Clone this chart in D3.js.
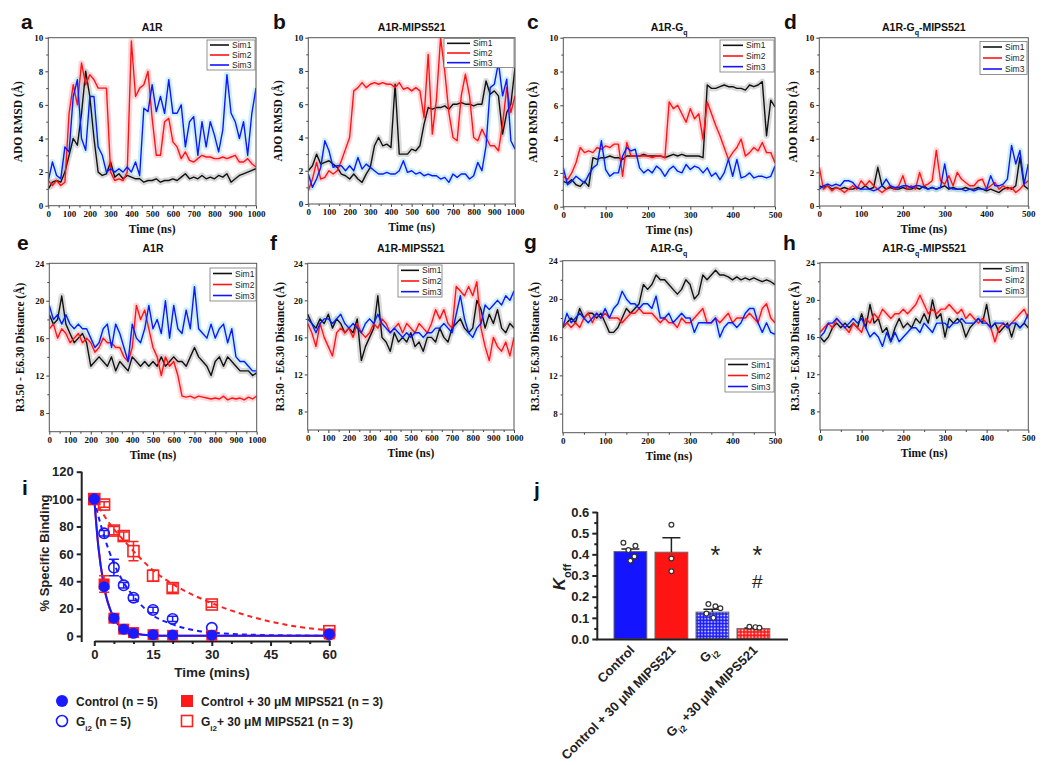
<!DOCTYPE html>
<html><head><meta charset="utf-8">
<script src="https://cdn.jsdelivr.net/npm/d3@7"></script>
<style>body{margin:0;background:#fff}</style>
</head><body>
<script>
// ---------------- DATA ----------------
const simNames = ["Sim1", "Sim2", "Sim3"];

// a: A1R ADO RMSD (0-1000 ns, every 20 ns)
const aSim1 = [1.0,1.4,1.5,1.4,2.0, 3.0,4.0,3.6,5.5,8.0, 6.5,4.0,2.0,1.8,1.9, 2.6,1.7,1.9,1.6,1.8, 1.7,1.6,1.6,1.4,1.5, 1.5,1.6,1.4,1.5,1.5, 1.6,1.5,1.7,1.9,1.6, 1.7,1.6,1.8,1.6,1.7, 1.6,1.8,1.7,1.9,1.4, 1.6,1.8,1.9,2.0,2.1, 2.2];
const aSim2 = [1.5,1.2,1.5,1.2,1.4, 5.5,7.2,6.0,8.5,7.2, 7.8,7.5,7.0,7.0,7.0, 2.0,1.5,1.6,1.5,2.0, 9.8,6.5,7.0,7.2,8.0, 5.2,3.0,3.0,5.0,5.2, 3.8,3.5,2.8,3.2,2.7, 2.6,2.8,3.0,2.9,2.9, 2.8,2.8,2.9,2.8,2.9, 3.0,2.6,2.6,2.8,2.5, 2.3];
const aSim3 = [1.5,2.6,1.8,1.6,3.5, 3.2,6.5,7.5,4.0,3.3, 6.5,6.5,3.5,3.0,2.0, 2.2,2.0,2.2,2.0,2.3, 2.0,2.6,1.8,5.8,5.6, 7.2,5.6,6.5,5.5,7.5, 5.5,5.5,6.0,3.5,5.0, 5.3,3.0,5.0,3.5,5.0, 4.2,3.2,4.5,7.8,5.5, 5.0,4.0,5.0,3.0,5.5, 7.0];
// b: A1R-MIPS521 ADO RMSD
const bSim1 = [2.0,2.3,3.0,2.4,2.5, 2.6,2.4,2.2,1.8,1.7, 1.5,1.8,1.5,1.3,1.8, 2.2,3.5,4.0,3.5,3.6, 3.4,7.2,3.0,3.0,3.0, 3.3,3.2,3.5,4.8,5.8, 5.7,5.8,5.8,5.9,5.7, 6.0,6.0,6.1,6.0,6.0, 5.9,6.0,6.0,7.4,6.6, 6.8,6.5,4.2,5.5,6.0, 8.2];
const bSim2 = [0.8,1.5,2.5,1.5,1.6, 2.0,1.8,2.0,2.6,3.3, 4.0,6.8,7.0,7.3,7.0, 7.2,7.3,7.2,7.3,7.2, 7.2,7.0,7.3,6.9,7.0, 6.8,7.0,6.8,5.2,9.0, 4.2,6.3,10.0,8.0,5.5, 4.0,3.8,6.5,7.8,6.5, 4.0,3.8,4.5,4.0,3.5, 3.5,3.2,4.8,7.0,5.5, 6.5];
const bSim3 = [1.8,1.0,1.5,2.2,3.8, 3.2,2.2,2.3,2.3,2.0, 2.3,2.0,2.8,2.1,2.4, 2.2,2.0,1.8,1.8,1.9, 1.8,1.8,2.0,2.6,1.9, 2.0,1.8,1.9,1.7,1.8, 1.7,1.7,1.5,1.6,1.3, 1.8,1.6,1.8,1.8,1.5, 1.7,2.5,2.0,3.5,7.0, 7.2,8.5,6.5,7.5,3.8, 3.3];
// c: A1R-Gq ADO RMSD (0-500 ns, every 10 ns)
const cSim1 = [1.5,1.4,1.6,1.3,1.2, 1.5,1.2,2.9,2.8,2.9, 2.9,3.0,2.9,2.9,2.8, 3.0,3.0,3.0,3.0,3.1, 3.0,3.0,3.0,3.0,2.9, 3.0,3.1,3.0,3.1,3.0, 3.0,3.0,3.0,2.9,7.2, 7.0,7.0,7.1,7.2,7.1, 7.1,7.0,7.0,6.9,7.2, 7.1,7.2,7.4,4.2,6.3, 5.9];
const cSim2 = [1.8,1.6,2.0,2.6,3.5, 3.2,3.3,3.2,3.5,3.4, 3.6,3.5,3.7,3.7,1.8, 3.8,3.0,3.0,3.0,3.0, 3.0,2.9,3.0,3.0,2.9, 6.2,5.8,6.0,5.5,5.0, 5.8,5.2,5.5,4.0,6.2, 5.5,4.8,4.2,3.5,2.8, 3.2,3.5,4.0,3.0,3.2, 3.5,3.3,3.8,3.2,3.2, 2.6];
const cSim3 = [2.3,1.3,1.5,1.8,1.6, 1.4,1.9,2.3,2.5,3.9, 2.2,1.8,2.0,2.0,3.0, 3.5,3.3,3.4,2.3,2.0, 2.2,2.0,2.4,2.2,1.8, 2.2,2.4,2.1,2.0,2.5, 2.2,2.4,2.3,2.0,2.3, 1.8,2.0,1.6,2.0,2.8, 1.8,2.8,1.7,1.8,2.0, 1.7,1.8,1.8,1.7,1.8, 2.4];
// d: A1R-Gq-MIPS521 ADO RMSD
const dSim1 = [1.2,1.1,1.2,1.0,1.1, 1.0,1.1,1.0,1.0,1.1, 1.0,1.2,1.0,1.1,2.3, 1.2,1.0,1.1,1.0,1.0, 1.1,1.0,1.0,1.1,1.0, 1.2,1.0,1.1,1.0,1.1, 1.2,1.0,1.1,1.0,1.0, 1.1,1.0,1.0,1.1,1.0, 0.9,1.0,0.9,0.8,1.0, 1.1,1.0,1.2,2.9,1.2, 1.0];
const dSim2 = [2.3,1.0,1.2,0.9,1.1, 1.0,0.8,1.0,1.2,1.0, 1.5,1.2,1.5,1.2,1.0, 0.8,1.0,1.2,1.0,1.2, 1.8,1.0,1.2,1.0,2.0, 1.2,1.3,1.5,3.3,1.5, 1.3,1.8,1.2,2.0,1.6, 1.4,1.2,1.2,1.5,1.6, 1.0,1.2,1.4,1.0,1.2, 1.0,1.1,0.8,1.0,1.3, 1.5];
const dSim3 = [1.0,1.2,1.3,1.2,1.3, 1.2,1.5,1.5,1.4,1.1, 1.0,1.0,1.0,0.9,1.0, 1.2,1.6,1.2,1.1,1.1, 1.2,1.2,1.1,1.2,1.2, 1.1,1.0,1.1,1.0,1.1, 2.5,1.1,1.0,1.0,1.0, 0.9,1.0,0.9,1.0,1.0, 1.0,1.8,1.2,1.2,1.3, 1.6,3.6,2.5,3.3,1.3, 2.5];
// e: A1R R3.50-E6.30 distance (0-1000 ns)
const eSim1 = [18.5,17.5,18.0,20.5,17.5, 16.5,15.5,16.0,16.5,15.5, 13.0,13.5,14.0,13.5,13.0, 14.0,12.5,13.5,13.0,12.5, 14.0,13.5,13.0,13.5,13.0, 13.5,13.0,14.0,13.0,13.5, 14.0,13.5,13.5,13.0,14.0, 15.0,14.0,13.5,13.0,12.0, 13.5,14.0,13.0,14.0,13.5, 13.0,12.5,12.5,12.5,12.0, 12.3];
const eSim2 = [17.0,17.5,16.0,17.0,16.5, 15.5,16.0,16.5,15.5,16.0, 15.5,14.5,15.0,16.0,15.5, 15.5,15.0,15.0,14.0,13.5, 15.0,19.5,18.0,19.0,17.0, 15.0,14.0,12.0,14.0,13.0, 13.5,12.0,9.8,9.7,9.8, 9.6,9.8,9.7,9.6,9.5, 9.6,9.5,9.8,9.4,9.6, 9.5,9.6,9.4,9.7,9.5, 9.8];
const eSim3 = [19.5,18.0,18.5,17.5,18.5, 17.5,17.0,17.5,17.0,17.0, 16.0,15.0,15.5,17.0,17.5, 15.0,17.5,16.5,15.0,13.5, 17.5,16.0,15.5,17.0,19.5, 17.0,18.0,16.5,20.0,16.0, 19.5,17.0,16.5,19.0,17.0, 21.5,17.0,16.5,16.0,17.5, 16.0,17.0,17.5,15.5,17.0, 14.0,13.5,13.5,13.0,12.5, 12.5];
// f: A1R-MIPS521 distance
const fSim1 = [18.5,17.5,17.0,18.0,17.5, 18.5,17.0,18.0,17.5,16.5, 17.0,16.5,18.0,13.5,15.0, 16.0,17.0,20.5,16.0,15.5, 14.5,16.5,15.5,16.0,15.5, 16.5,15.0,15.5,14.5,16.0, 16.0,15.5,17.0,16.0,15.5, 17.0,17.5,18.0,17.0,16.5, 17.0,20.0,19.0,17.0,18.5, 17.5,19.0,17.0,16.5,17.5, 17.0];
const fSim2 = [17.5,16.5,15.0,17.5,16.0, 15.0,14.0,16.5,17.0,16.5, 17.0,16.0,17.5,16.5,16.0, 16.5,17.5,17.0,18.0,17.5, 16.5,17.0,17.5,16.5,17.5, 17.0,16.5,17.5,17.0,16.5, 17.5,19.0,18.0,19.0,17.5, 17.0,21.5,21.0,20.5,21.5, 20.5,22.0,17.0,15.0,13.5, 16.0,15.0,14.5,15.5,14.0, 16.0];
const fSim3 = [18.0,17.5,16.5,17.5,18.0, 18.0,17.5,18.0,18.5,17.5, 17.0,17.5,17.0,16.5,17.5, 18.0,17.5,18.5,17.5,17.0, 16.5,17.0,16.5,16.0,16.5, 16.0,16.5,16.5,16.0,16.5, 16.5,17.0,17.0,17.5,17.0, 16.5,18.5,20.5,18.0,16.5, 16.0,17.0,17.5,19.5,19.0, 19.5,20.0,19.5,20.5,20.0, 21.0];
// g: A1R-Gq distance (0-500 ns)
const gSim1 = [17.0,17.5,18.0,17.5,19.0, 18.0,18.5,18.5,18.0,18.5, 17.5,16.5,16.5,17.0,18.0, 19.0,18.5,19.0,19.5,21.5, 21.0,21.5,22.5,22.0,22.0, 21.5,21.0,20.5,21.0,22.0, 21.5,20.0,20.5,22.5,22.0, 22.5,23.0,22.5,22.5,22.3, 22.0,22.3,22.0,22.2,22.0, 22.2,22.0,21.8,22.0,21.8, 21.5];
const gSim2 = [17.0,17.5,17.0,17.5,17.0, 18.0,18.5,17.5,18.5,18.0, 18.5,18.0,18.0,18.0,17.5, 18.0,18.5,18.5,19.0,18.5, 18.5,18.5,18.0,17.5,18.0, 17.5,17.5,17.0,18.0,17.5, 17.5,18.0,18.5,19.0,17.5, 17.5,18.0,17.5,18.0,18.5, 17.5,18.0,18.0,18.0,18.5, 18.0,17.5,19.0,19.5,18.0, 17.5];
const gSim3 = [17.0,18.5,17.5,18.0,18.5, 18.0,17.5,18.0,18.5,18.0, 19.0,18.0,19.0,19.5,20.8, 20.0,19.5,19.5,19.0,19.5, 19.5,19.0,20.3,18.0,18.0, 18.5,17.5,18.0,18.5,18.0, 18.0,16.5,17.5,17.5,17.5, 17.5,18.0,16.0,17.0,17.5, 17.5,17.0,17.5,18.5,19.0, 19.0,17.5,16.5,17.5,16.5, 16.3];
// h: A1R-Gq-MIPS521 distance
const hSim1 = [16.0,15.5,16.0,17.0,17.5, 17.0,17.5,17.0,17.5,17.0, 18.5,17.0,19.5,17.5,18.0, 16.5,17.0,15.5,17.0,18.0, 17.0,17.5,17.0,18.0,17.5, 18.5,17.5,20.0,18.0,18.5, 16.0,18.0,17.5,18.0,17.5, 16.0,17.0,17.5,18.0,17.5, 19.5,17.0,17.5,16.5,17.0, 17.5,16.0,17.5,17.0,17.5, 17.0];
const hSim2 = [16.5,17.0,17.5,17.0,18.0, 17.5,17.0,16.5,17.5,17.0, 16.5,18.0,17.5,18.5,18.0, 19.0,18.5,18.0,18.5,18.5, 19.0,18.5,19.0,19.5,20.5, 19.5,18.5,19.0,18.5,19.0, 19.0,19.5,19.0,18.5,19.0, 18.0,18.5,18.0,17.5,18.0, 17.5,17.0,15.5,17.0,17.5, 17.0,17.5,18.0,18.5,19.0, 18.0];
const hSim3 = [16.0,16.5,17.5,17.5,18.0, 17.5,17.0,17.5,18.0,17.5, 18.0,17.0,16.0,16.5,16.0, 15.0,16.5,15.5,16.5,15.5, 16.0,16.5,17.0,17.0,16.5, 17.5,17.0,16.5,17.5,17.5, 17.5,17.0,17.5,17.5,18.0, 17.5,17.5,17.5,18.0,17.5, 17.5,17.0,17.5,17.5,17.5, 17.0,17.5,17.5,17.0,17.5, 18.5];

const mdTitles = [
  [{t:"A1R"}], [{t:"A1R-MIPS521"}], [{t:"A1R-G"},{t:"q",sub:1}], [{t:"A1R-G"},{t:"q",sub:1},{t:"-MIPS521"}],
  [{t:"A1R"}], [{t:"A1R-MIPS521"}], [{t:"A1R-G"},{t:"q",sub:1}], [{t:"A1R-G"},{t:"q",sub:1},{t:"-MIPS521"}]
];
const rmsdLabel = "ADO RMSD (Å)";
const distLabel = "R3.50 - E6.30 Distance (Å)";
const timeLabelNs = "Time (ns)";
const rmsdTicks = [0, 2, 4, 6, 8, 10];
const distTicks = [8, 12, 16, 20, 24];
const timeTicksLong = [0,100,200,300,400,500,600,700,800,900,1000];
const timeTicksShort = [0,100,200,300,400,500];

// i: dissociation kinetics
const bindTimes = [0, 2.5, 5, 7.5, 10, 15, 20, 30, 60];
const bindControl = [100, 36, 13, 5, 2, 1, 0.7, 0.6, 1.5];
const bindControlMips = [100, 38, 13, 5, 2.5, 1, 0.5, 0.5, 1.5];
const bindGi2 = [100, 75, 50, 37, 28, 19, 12.5, 6, 1];
const bindGi2Mips = [100, 96, 77, 73, 62, 44, 35, 23, 3.5];
const errControlMips = [0, 6, 2, 1, 1, 0.5, 0.5, 0.5, 0.5];
const errGi2 = [0, 2, 6, 2, 2, 2, 2, 1, 0.5];
const errGi2Mips = [0, 2, 3, 3, 7, 4, 3, 2, 1];
const fitTimes = [0, 1, 2.5, 5, 7.5, 10, 15, 20, 30, 45, 60];
const fitControl = [100, 66, 36, 13, 5, 2, 0.4, 0.2, 0.1, 0.1, 0.1];
const fitGi2 = [100, 88, 73, 53, 39, 29, 15, 8.5, 2.5, 0.6, 0.2];
const fitGi2Mips = [100, 95, 88, 78, 70, 62, 48, 38, 24, 10.5, 4];
const bindXTicks = [0, 15, 30, 45, 60];
const bindYTicks = [0, 20, 40, 60, 80, 100, 120];
const bindLegend = [
  [{t:"Control (n = 5)"}],
  [{t:"G"},{t:"i2",sub:1},{t:" (n = 5)"}],
  [{t:"Control + 30 μM MIPS521 (n = 3)"}],
  [{t:"G"},{t:"i2",sub:1},{t:"+ 30 μM MIPS521 (n = 3)"}]
];

// j: Koff bars
const koffCats = [
  [{t:"Control"}],
  [{t:"Control + 30 μM MIPS521"}],
  [{t:"G"},{t:"i2",sub:1}],
  [{t:"G"},{t:"i2",sub:1},{t:" +30 μM MIPS521"}]
];
const koffMean = [0.413, 0.41, 0.127, 0.049];
const koffSem = [0.012, 0.068, 0.013, 0.003];
const koffPoints = [[0.455, 0.44, 0.42, 0.39, 0.37], [0.54, 0.38, 0.32], [0.165, 0.155, 0.145, 0.12, 0.1], [0.058, 0.056, 0.053]];
const koffTicks = [0, 0.1, 0.2, 0.3, 0.4, 0.5, 0.6];

// ---------------- DRAW ----------------
const serif = "'Liberation Serif','Times New Roman',serif";
const sans = "'Liberation Sans',Arial,sans-serif";
const svg = d3.select("body").append("svg").attr("width", 1050).attr("height", 765);
const defs = svg.append("defs");

function rich(sel, parts, subSize) {
  parts.forEach(p => {
    const ts = sel.append("tspan").text(p.t);
    if (p.sub) ts.attr("baseline-shift", "sub").attr("font-size", subSize);
  });
  return sel;
}

const simColors = ["#111111", "#ff1414", "#1414ff"];
const simBand = ["#a0a0a0", "#ff9aa6", "#80dcec"];

const mdPanels = [
  {L:"a", lx:21, ly:29, l:48.3, r:256, t:37.7, b:205.7, xmax:1000, yd:[0,10], yt:rmsdTicks, ym:[1,3,5,7,9], xt:timeTicksLong, yl:rmsdLabel, ylx:22, data:[aSim1,aSim2,aSim3], leg:{x:207,y:40,w:48,h:30,len:19}},
  {L:"b", lx:273, ly:29, l:308.3, r:515, t:37.7, b:204, xmax:1000, yd:[0,10], yt:rmsdTicks, ym:[1,3,5,7,9], xt:timeTicksLong, yl:rmsdLabel, ylx:282, data:[bSim1,bSim2,bSim3], leg:{x:444,y:38.5,w:70,h:29,len:23}},
  {L:"c", lx:527, ly:29, l:563.3, r:775, t:37.7, b:206.7, xmax:500, yd:[0,10], yt:rmsdTicks, ym:[1,3,5,7,9], xt:timeTicksShort, yl:rmsdLabel, ylx:537, data:[cSim1,cSim2,cSim3], leg:{x:720,y:40,w:54,h:32,len:20}},
  {L:"d", lx:784, ly:29, l:819.3, r:1028.3, t:37.7, b:206, xmax:500, yd:[0,10], yt:rmsdTicks, ym:[1,3,5,7,9], xt:timeTicksShort, yl:rmsdLabel, ylx:797, data:[dSim1,dSim2,dSim3], leg:{x:980,y:41.5,w:47,h:33,len:19}},
  {L:"e", lx:17, ly:250, l:49.3, r:256.7, t:263.3, b:431.7, xmax:1000, yd:[6,24], yt:distTicks, ym:[10,14,18,22], xt:timeTicksLong, yl:distLabel, ylx:24, data:[eSim1,eSim2,eSim3], leg:{x:210,y:268,w:46,h:33,len:19}},
  {L:"f", lx:270, ly:250, l:307.7, r:514, t:263.3, b:430, xmax:1000, yd:[6,24], yt:distTicks, ym:[10,14,18,22], xt:timeTicksLong, yl:distLabel, ylx:284, data:[fSim1,fSim2,fSim3], leg:{x:398,y:265,w:44,h:32,len:18}},
  {L:"g", lx:524, ly:249, l:562.7, r:775, t:260.7, b:432.7, xmax:500, yd:[6,24], yt:distTicks, ym:[10,14,18,22], xt:timeTicksShort, yl:distLabel, ylx:539, data:[gSim1,gSim2,gSim3], leg:{x:725,y:359,w:49,h:33,len:20}},
  {L:"h", lx:783, ly:250, l:820, r:1028.3, t:262.7, b:430, xmax:500, yd:[6,24], yt:distTicks, ym:[10,14,18,22], xt:timeTicksShort, yl:distLabel, ylx:799, data:[hSim1,hSim2,hSim3], leg:{x:980,y:263,w:47,h:34,len:19}}
];

mdPanels.forEach((p, idx) => {
  const x = d3.scaleLinear().domain([0, p.xmax]).range([p.l, p.r]);
  const y = d3.scaleLinear().domain(p.yd).range([p.b, p.t]);
  const g = svg.append("g");
  const cid = "clip" + idx;
  defs.append("clipPath").attr("id", cid).append("rect")
    .attr("x", p.l).attr("y", p.t).attr("width", p.r - p.l).attr("height", p.b - p.t);
  const pg = g.append("g").attr("clip-path", `url(#${cid})`);
  const line = d3.line()
    .x((d, i, arr) => x(i * p.xmax / (arr.length - 1)))
    .y(d => y(d));
  p.data.forEach((s, k) => {
    pg.append("path").attr("d", line(s)).attr("fill", "none")
      .attr("stroke", simBand[k]).attr("stroke-width", 6).attr("stroke-opacity", 0.4)
      .attr("stroke-linejoin", "round");
  });
  p.data.forEach((s, k) => {
    pg.append("path").attr("d", line(s)).attr("fill", "none")
      .attr("stroke", simColors[k]).attr("stroke-width", 1.4).attr("stroke-linejoin", "round");
  });
  // axes
  const xa = g.append("g").attr("transform", `translate(0,${p.b})`)
    .call(d3.axisBottom(x).tickValues(p.xt).tickSize(3).tickPadding(2).tickFormat(d3.format("d")));
  const xm = g.append("g").attr("transform", `translate(0,${p.b})`)
    .call(d3.axisBottom(x).tickValues(p.xt.slice(0, -1).map((v, i) => (v + p.xt[i + 1]) / 2)).tickSize(2).tickFormat(""));
  const ya = g.append("g").attr("transform", `translate(${p.l},0)`)
    .call(d3.axisLeft(y).tickValues(p.yt).tickSize(3).tickPadding(2).tickFormat(d3.format("d")));
  const ymn = g.append("g").attr("transform", `translate(${p.l},0)`)
    .call(d3.axisLeft(y).tickValues(p.ym).tickSize(2).tickFormat(""));
  [xa, xm, ya, ymn].forEach(a => {
    a.select(".domain").remove();
    a.selectAll("line").attr("stroke", "#444");
    a.selectAll("text").attr("font-family", serif).attr("font-weight", "bold").attr("font-size", 9).attr("fill", "#111");
  });
  g.append("rect").attr("x", p.l).attr("y", p.t).attr("width", p.r - p.l).attr("height", p.b - p.t)
    .attr("fill", "none").attr("stroke", "#555").attr("stroke-width", 1);
  // labels
  g.append("text").attr("x", (p.l + p.r) / 2).attr("y", p.b + 27).attr("text-anchor", "middle")
    .attr("font-family", serif).attr("font-weight", "bold").attr("font-size", 11.5).attr("fill", "#111").text(timeLabelNs);
  g.append("text").attr("transform", `translate(${p.ylx},${(p.t + p.b) / 2}) rotate(-90)`).attr("text-anchor", "middle")
    .attr("font-family", serif).attr("font-weight", "bold").attr("font-size", 11.5).attr("fill", "#111").text(p.yl);
  rich(g.append("text").attr("x", (p.l + p.r) / 2).attr("y", idx < 4 ? 30.5 : 252).attr("text-anchor", "middle")
    .attr("font-family", sans).attr("font-weight", "bold").attr("font-size", 10.5).attr("fill", "#111"), mdTitles[idx], 7);
  g.append("text").attr("x", p.lx).attr("y", p.ly).attr("font-family", sans).attr("font-weight", "bold")
    .attr("font-size", 21).attr("fill", "#111").text(p.L);
  // legend
  const lg = p.leg;
  g.append("rect").attr("x", lg.x).attr("y", lg.y).attr("width", lg.w).attr("height", lg.h)
    .attr("fill", "#fff").attr("stroke", "#777").attr("stroke-width", 0.8);
  simNames.forEach((n, k) => {
    const yy = lg.y + lg.h * (k + 0.5) / 3;
    g.append("line").attr("x1", lg.x + 3).attr("x2", lg.x + 3 + lg.len).attr("y1", yy).attr("y2", yy)
      .attr("stroke", simColors[k]).attr("stroke-width", 1.6);
    g.append("text").attr("x", lg.x + lg.len + 6).attr("y", yy + 3).attr("font-family", sans)
      .attr("font-size", 8.5).attr("fill", "#222").text(n);
  });
});

// ---------- panel i ----------
{
  const g = svg.append("g");
  const x = d3.scaleLinear().domain([0, 60]).range([94.3, 329.3]);
  const y = d3.scaleLinear().domain([0, 120]).range([636, 471.7]);
  const ya = g.append("g").attr("transform", "translate(81.7,0)")
    .call(d3.axisLeft(y).tickValues(bindYTicks).tickSize(5).tickSizeOuter(0).tickPadding(3));
  const xa = g.append("g").attr("transform", "translate(0,641)")
    .call(d3.axisBottom(x).tickValues(bindXTicks).tickSize(5).tickSizeOuter(0).tickPadding(4));
  const xm = g.append("g").attr("transform", "translate(0,641)")
    .call(d3.axisBottom(x).tickValues([5,10,20,25,35,40,50,55]).tickSize(3).tickFormat(""));
  xm.select(".domain").remove();
  [ya, xa, xm].forEach(a => {
    a.selectAll("path,line").attr("stroke", "#222").attr("stroke-width", 2);
    a.selectAll("text").attr("font-family", sans).attr("font-weight", "bold").attr("font-size", 13).attr("fill", "#222");
  });
  ya.select(".domain").attr("d", "M0,471.7V642");
  g.append("text").attr("x", 212).attr("y", 677).attr("text-anchor", "middle").attr("font-family", sans)
    .attr("font-weight", "bold").attr("font-size", 13.5).attr("fill", "#222").text("Time (mins)");
  g.append("text").attr("transform", "translate(49,553) rotate(-90)").attr("text-anchor", "middle").attr("font-family", sans)
    .attr("font-weight", "bold").attr("font-size", 13).attr("fill", "#222").text("% Specific Binding");
  g.append("text").attr("x", 22).attr("y", 495).attr("font-family", sans).attr("font-weight", "bold")
    .attr("font-size", 21).attr("fill", "#111").text("i");

  const fl = arr => d3.line().curve(d3.curveMonotoneX).x((d, i) => x(fitTimes[i])).y(d => y(d))(arr);
  g.append("path").attr("d", fl(fitGi2Mips)).attr("fill", "none").attr("stroke", "#ff2020").attr("stroke-width", 2).attr("stroke-dasharray", "5,4");
  g.append("path").attr("d", fl(fitGi2)).attr("fill", "none").attr("stroke", "#1a1aff").attr("stroke-width", 2).attr("stroke-dasharray", "5,4");
  g.append("path").attr("d", fl(fitControl)).attr("fill", "none").attr("stroke", "#ff2020").attr("stroke-width", 2);
  g.append("path").attr("d", fl(fitControl)).attr("fill", "none").attr("stroke", "#1a1aff").attr("stroke-width", 2);

  const errs = (vals, err, col) => {
    vals.forEach((v, i) => {
      if (err[i] < 1.5) return;
      const cx = x(bindTimes[i]);
      g.append("path").attr("d", `M${cx},${y(v - err[i])}V${y(v + err[i])}M${cx - 5},${y(v - err[i])}H${cx + 5}M${cx - 5},${y(v + err[i])}H${cx + 5}`)
        .attr("stroke", col).attr("stroke-width", 1.5).attr("fill", "none");
    });
  };
  errs(bindGi2Mips, errGi2Mips, "#ff2020");
  errs(bindGi2, errGi2, "#1a1aff");
  errs(bindControlMips, errControlMips, "#ff2020");
  bindGi2Mips.forEach((v, i) => g.append("rect").attr("x", x(bindTimes[i]) - 5.5).attr("y", y(v) - 5.5).attr("width", 11).attr("height", 11)
    .attr("fill", "none").attr("stroke", "#ff2020").attr("stroke-width", 1.6));
  bindGi2.forEach((v, i) => g.append("circle").attr("cx", x(bindTimes[i])).attr("cy", y(v)).attr("r", 5.2)
    .attr("fill", "none").attr("stroke", "#1a1aff").attr("stroke-width", 1.6));
  bindControlMips.forEach((v, i) => g.append("rect").attr("x", x(bindTimes[i]) - 5.5).attr("y", y(v) - 5.5).attr("width", 11).attr("height", 11)
    .attr("fill", "#ff1a1a"));
  bindControl.forEach((v, i) => g.append("circle").attr("cx", x(bindTimes[i])).attr("cy", y(v)).attr("r", 5.5)
    .attr("fill", "#1a1aff"));

  // legend
  const lgPos = [[62, 701], [62, 721], [187, 701], [187, 721]];
  lgPos.forEach((pp, k) => {
    const [cx, cy] = pp;
    if (k === 0) g.append("circle").attr("cx", cx).attr("cy", cy).attr("r", 6).attr("fill", "#1a1aff");
    if (k === 1) g.append("circle").attr("cx", cx).attr("cy", cy).attr("r", 5.5).attr("fill", "none").attr("stroke", "#1a1aff").attr("stroke-width", 1.6);
    if (k === 2) g.append("rect").attr("x", cx - 6).attr("y", cy - 6).attr("width", 12).attr("height", 12).attr("fill", "#ff1a1a");
    if (k === 3) g.append("rect").attr("x", cx - 5.5).attr("y", cy - 5.5).attr("width", 11).attr("height", 11).attr("fill", "none").attr("stroke", "#ff2020").attr("stroke-width", 1.6);
    rich(g.append("text").attr("x", cx + 14).attr("y", cy + 4.5).attr("font-family", sans).attr("font-weight", "bold")
      .attr("font-size", 12).attr("fill", "#222"), bindLegend[k], 8);
  });
}

// ---------- panel j ----------
{
  const g = svg.append("g");
  const pb = defs.append("pattern").attr("id", "patBlue").attr("width", 3.2).attr("height", 3.2).attr("patternUnits", "userSpaceOnUse");
  pb.append("rect").attr("width", 3.2).attr("height", 3.2).attr("fill", "#1a1aff");
  pb.append("rect").attr("x", 0.4).attr("y", 0.4).attr("width", 1.5).attr("height", 1.5).attr("fill", "#fff");
  const pr = defs.append("pattern").attr("id", "patRed").attr("width", 3.4).attr("height", 3.4).attr("patternUnits", "userSpaceOnUse");
  pr.append("rect").attr("width", 3.4).attr("height", 3.4).attr("fill", "#ff1a1a");
  pr.append("circle").attr("cx", 1.2).attr("cy", 1.2).attr("r", 0.85).attr("fill", "#fff");
  const fills = ["#1414ff", "#ff1414", "url(#patBlue)", "url(#patRed)"];

  const x = d3.scaleBand().domain(d3.range(koffMean.length)).range([609.9, 773.9]).paddingInner(0.2).paddingOuter(0.1);
  const y = d3.scaleLinear().domain([0, 0.6]).range([639, 512]);
  koffMean.forEach((v, i) => {
    g.append("rect").attr("x", x(i)).attr("y", y(v)).attr("width", x.bandwidth()).attr("height", y(0) - y(v))
      .attr("fill", fills[i]).attr("stroke", "#666").attr("stroke-width", 1);
    const cx = x(i) + x.bandwidth() / 2;
    const top = y(v + koffSem[i]);
    g.append("path").attr("d", `M${cx},${y(v)}V${top}M${cx - 9},${top}H${cx + 9}`).attr("stroke", "#222").attr("stroke-width", 1.5).attr("fill", "none");
  });
  const jit = [[-7, 5, -2, 4, 0], [0, 0, 0], [-4, 3, 8, -6, 1], [-4, 2, 6]];
  koffPoints.forEach((arr, i) => {
    const cx = x(i) + x.bandwidth() / 2;
    arr.forEach((v, k) => g.append("circle").attr("cx", cx + jit[i][k]).attr("cy", y(v)).attr("r", 2.4)
      .attr("fill", "#fff").attr("stroke", "#333").attr("stroke-width", 1.2));
  });
  const ya = g.append("g").attr("transform", "translate(597.3,0)")
    .call(d3.axisLeft(y).tickValues(koffTicks).tickSize(5).tickSizeOuter(0).tickPadding(3).tickFormat(d3.format(".1f")));
  const ym = g.append("g").attr("transform", "translate(597.3,0)")
    .call(d3.axisLeft(y).tickValues([0.05, 0.15, 0.25, 0.35, 0.45, 0.55]).tickSize(3).tickFormat(""));
  ym.select(".domain").remove();
  [ya, ym].forEach(a => {
    a.selectAll("path,line").attr("stroke", "#222").attr("stroke-width", 2);
    a.selectAll("text").attr("font-family", sans).attr("font-weight", "bold").attr("font-size", 13).attr("fill", "#222");
  });
  ya.select(".domain").attr("d", "M0,512V640");
  g.append("line").attr("x1", 596.3).attr("x2", 788).attr("y1", 639.5).attr("y2", 639.5).attr("stroke", "#222").attr("stroke-width", 2);
  // categories
  koffCats.forEach((parts, i) => {
    const cx = x(i) + x.bandwidth() / 2;
    rich(g.append("text").attr("transform", `translate(${cx + 5},${651}) rotate(-45)`).attr("text-anchor", "end")
      .attr("font-family", sans).attr("font-weight", "bold").attr("font-size", 13).attr("fill", "#222"), parts, 9);
  });
  // y label
  const kl = g.append("text").attr("transform", "translate(565,577) rotate(-90)").attr("text-anchor", "middle")
    .attr("font-family", sans).attr("font-weight", "bold").attr("fill", "#222");
  kl.append("tspan").attr("font-size", 17).attr("font-style", "italic").text("K");
  kl.append("tspan").attr("font-size", 11).attr("baseline-shift", "sub").text("off");
  // significance marks
  const c2 = x(2) + x.bandwidth() / 2, c3 = x(3) + x.bandwidth() / 2;
  g.append("text").attr("x", c2 + 3).attr("y", 564).attr("text-anchor", "middle").attr("font-family", sans).attr("font-size", 25).attr("fill", "#222").text("*");
  g.append("text").attr("x", c3 + 4).attr("y", 564).attr("text-anchor", "middle").attr("font-family", sans).attr("font-size", 25).attr("fill", "#222").text("*");
  g.append("text").attr("x", c3 + 4).attr("y", 588).attr("text-anchor", "middle").attr("font-family", sans).attr("font-size", 19).attr("fill", "#222").text("#");
  g.append("text").attr("x", 534).attr("y", 497).attr("font-family", sans).attr("font-weight", "bold")
    .attr("font-size", 21).attr("fill", "#111").text("j");
}
</script>
</body></html>
